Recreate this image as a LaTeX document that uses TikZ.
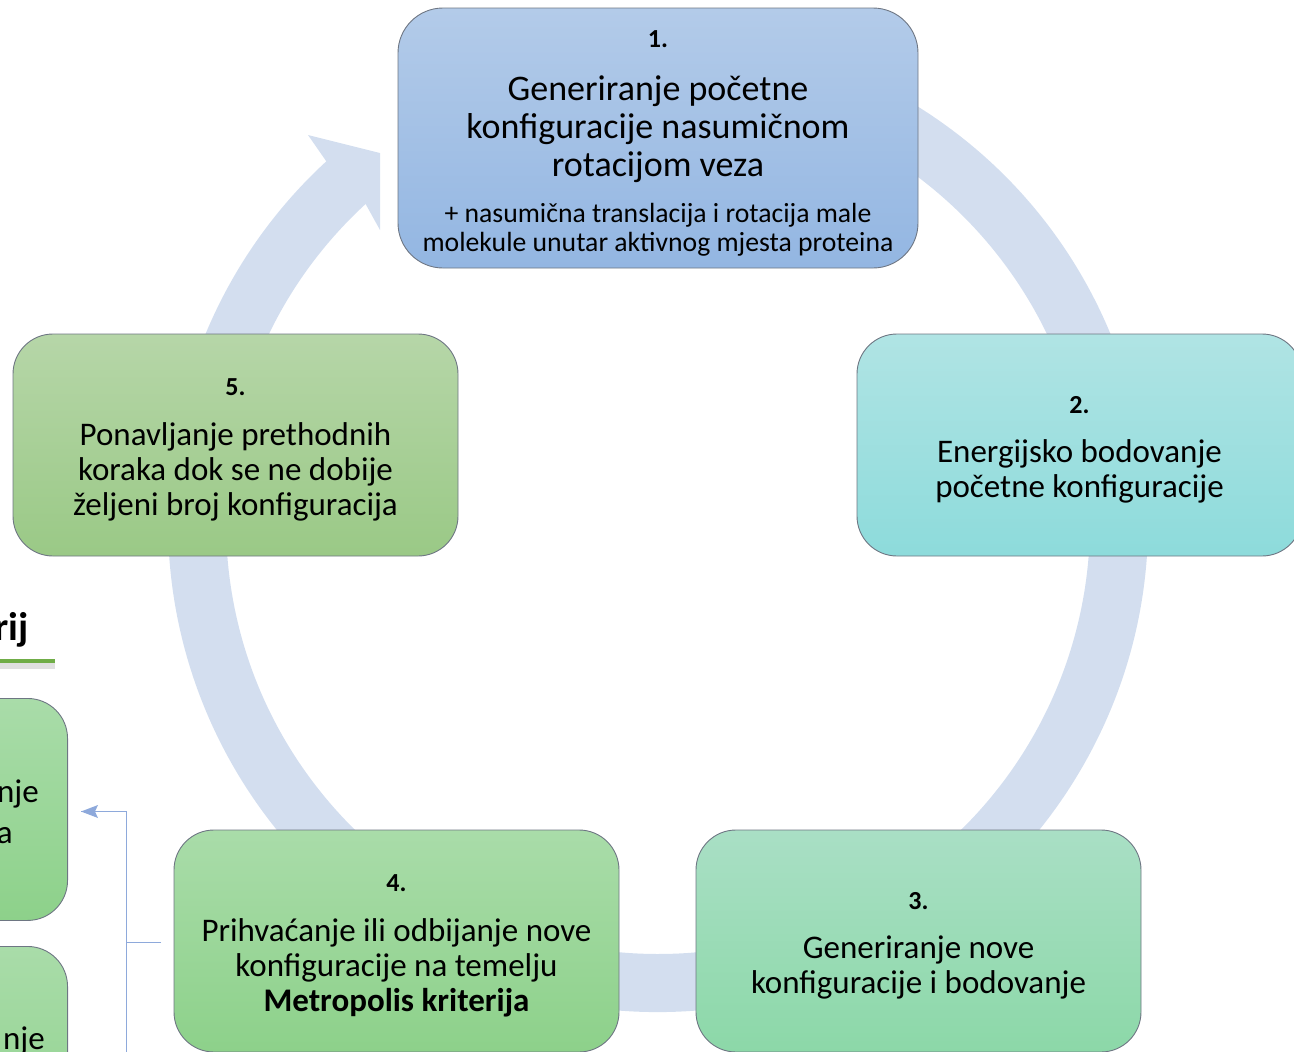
\documentclass[tikz,border=0pt]{standalone}
\usepackage{fontspec}
\setmainfont{Carlito}
\usetikzlibrary{arrows.meta}
\definecolor{ringc}{HTML}{D3DEEF}
\definecolor{bordc}{HTML}{6E7683}
\definecolor{linkc}{HTML}{8EA9DB}
\definecolor{ulc}{HTML}{70AD47}
\definecolor{aTop}{HTML}{B3CBE9}\definecolor{aBot}{HTML}{93B6E2}
\definecolor{bTop}{HTML}{B0E4E4}\definecolor{bBot}{HTML}{8DDBDB}
\definecolor{cTop}{HTML}{A9DFC5}\definecolor{cBot}{HTML}{8CD8A8}
\definecolor{dTop}{HTML}{A9DCA9}\definecolor{dBot}{HTML}{8DD18A}
\definecolor{eTop}{HTML}{B6D6A8}\definecolor{eBot}{HTML}{9AC986}
\newcommand\hdr[1]{{\fontsize{26}{28}\selectfont\bfseries\rule{0pt}{27pt}#1}}
\begin{document}
\begin{tikzpicture}[x=1pt,y=-1pt,
  stepbox/.style={draw=bordc, line width=0.9pt, rounded corners=40pt,
    minimum width=445pt, minimum height=222pt, align=center, inner sep=0pt,
    font=\fontsize{33}{35}\selectfont},
  link/.style={draw=linkc, line width=1pt}]
\useasboundingbox (0,0) rectangle (1294,1052);
\clip (0,0) rectangle (1294,1052);

% ring arrow
\begin{scope}[shift={(658,522)}, yscale=-1]
  \fill[ringc] (60:490) arc[start angle=60, end angle=-228, radius=490]
    -- (-228:432) arc[start angle=-228, end angle=60, radius=432] -- cycle;
\end{scope}
\fill[ringc] (326.3,161.3) -- (308,135) -- (380,153) -- (380,230) -- (365.6,204) -- cycle;

% left partial content
\node[anchor=base east, font=\fontsize{40}{48}\selectfont\bfseries, inner sep=0pt] (kr) at (29,640) {rij};
\fill[black!12] (0,663) rectangle (55,669);
\fill[ulc] (0,658.5) rectangle (55,663);
\node[stepbox, top color=dTop, bottom color=dBot, anchor=north east] (pa) at (68,698) {};
\node[stepbox, top color=dTop, bottom color=dBot, anchor=north east, minimum height=230pt] (pb) at (68,946) {};
\node[anchor=base east, inner sep=0pt, font=\fontsize{33}{38}\selectfont] (ta1) at (39,802) {nje};
\node[anchor=base east, inner sep=0pt, font=\fontsize{33}{38}\selectfont] (ta2) at (13,843) {a};
\node[anchor=base east, inner sep=0pt, font=\fontsize{33}{38}\selectfont] (tb1) at (45,1049) {nje};

% main steps
\node[stepbox, minimum width=520pt, minimum height=260pt, rounded corners=45pt,
  top color=aTop, bottom color=aBot, font=\fontsize{36}{38}\selectfont] (s1) at (658,138)
  {\hdr{1.}\\[15pt]Generiranje početne\\konfiguracije nasumičnom\\rotacijom veza\\[8pt]
   {\fontsize{27.7}{29}\selectfont + nasumična translacija i rotacija male}\\[-9pt]
   {\fontsize{27.7}{29}\selectfont molekule unutar aktivnog mjesta proteina}};
\node[stepbox, top color=bTop, bottom color=bBot] (s2) at (1079.5,445)
  {\hdr{2.}\\[14pt]Energijsko bodovanje\\početne konfiguracije};
\node[stepbox, top color=cTop, bottom color=cBot] (s3) at (918.5,941)
  {\hdr{3.}\\[14pt]Generiranje nove\\konfiguracije i bodovanje};
\node[stepbox, top color=dTop, bottom color=dBot] (s4) at (396.5,941)
  {\hdr{4.}\\[15pt]Prihvaćanje ili odbijanje nove\\konfiguracije na temelju\\\textbf{Metropolis kriterija}};
\node[stepbox, top color=eTop, bottom color=eBot] (s5) at (235.5,445)
  {\hdr{5.}\\[15pt]Ponavljanje prethodnih\\koraka dok se ne dobije\\željeni broj konfiguracija};

% connector on the left
\coordinate (c0) at (161,942.5);
\coordinate (c1) at (126,942.5);
\coordinate (c2) at (126,1060);
\coordinate (c3) at (126,811.5);
\coordinate (c4) at (81,811.5);
\draw[link] (c0) -- (c1);
\draw[link] (c2) -- (c3) -- (c4);
\fill[linkc] (c4) -- ++(17,-6.5) -- ++(-3,6.5) -- ++(3,6.5) -- cycle;
\end{tikzpicture}
\end{document}
